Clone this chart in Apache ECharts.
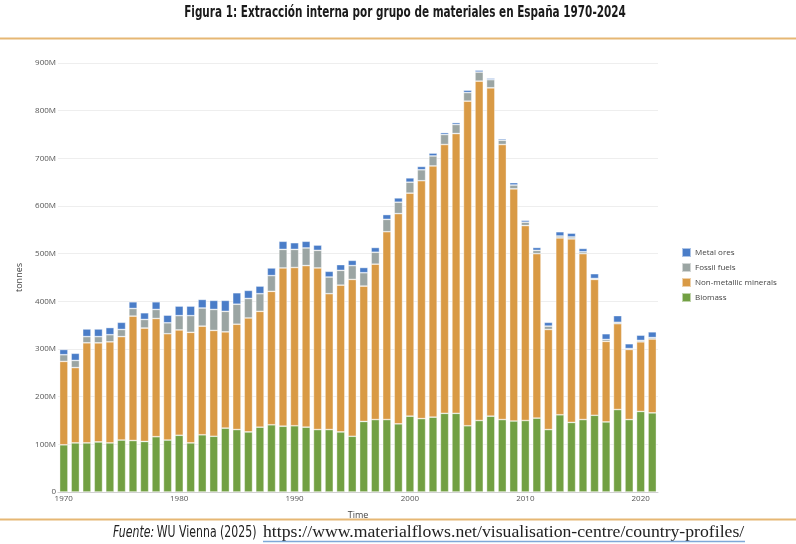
<!DOCTYPE html>
<html>
<head>
<meta charset="utf-8">
<script src="https://cdn.jsdelivr.net/npm/echarts@6/dist/echarts.min.js"></script>
<style>
html,body{margin:0;padding:0;background:#fff;}
#c{width:796px;height:544px;}
</style>
</head>
<body>
<div id="c"></div>
<script>
const years = [];
for (let y = 1970; y <= 2021; y++) years.push(String(y));

// Millions of tonnes, per segment (stacked)
const biomass = [99,103,103,105,103,109,108,106,116,109,119,103,120,117,134,131,126,136,141,138,139,136,131,131,126,117,148,152,152,143,159,154,157,165,165,139,150,159,152,149,150,155,131,162,146,152,161,147,173,152,169,166];
const nonMetallic = [175,158,210,208,212,217,261,238,248,223,221,232,228,222,202,221,239,243,280,332,332,339,339,285,308,329,284,326,394,441,468,499,527,564,587,681,712,689,577,487,409,345,210,371,385,348,285,169,180,147,146,155];
const fossilFuels = [14,15,13,13,15,15,16,18,19,23,30,35,38,44,43,42,41,37,33,39,38,37,37,35,31,29,28,25,26,24,23,23,21,21,19,18,19,17,9,8,7,7,7,4,4,4,2,4,3,2,3,3];
const metalOres = [11,15,16,16,15,15,14,14,16,16,20,20,18,19,23,24,17,16,16,17,14,14,11,12,12,11,11,10,10,9,9,7,6,4,4,5,4,3,3,5,4,6,8,9,8,7,10,12,14,10,11,12];

const seriesNames = ['Biomass','Non-metallic minerals','Fossil fuels','Metal ores'];
const legendOrder = ['Metal ores','Fossil fuels','Non-metallic minerals','Biomass'];
const yTicks = [0,100,200,300,400,500,600,700,800,900];

const colors = {
  'Biomass':'#72A043',
  'Non-metallic minerals':'#D99A45',
  'Fossil fuels':'#9BA5A3',
  'Metal ores':'#4A7DC8'
};
const dataMap = {
  'Biomass': biomass,
  'Non-metallic minerals': nonMetallic,
  'Fossil fuels': fossilFuels,
  'Metal ores': metalOres
};

const chart = echarts.init(document.getElementById('c'));
const labelFont = '"Open Sans", "Liberation Sans", sans-serif';
const condFont = '"Liberation Sans Narrow", "DejaVu Sans Condensed", sans-serif';

chart.setOption({
  animation: false,
  backgroundColor: '#fff',
  legend: {
    data: legendOrder,
    orient: 'vertical',
    left: 676, top: 242,
    itemWidth: 9, itemHeight: 9, itemGap: 4,
    icon: 'rect',
    textStyle: { fontFamily: labelFont, fontSize: 8, color: '#444', padding: [0,0,0,-1] }
  },
  grid: { left: 58, right: 138, top: 63, bottom: 52 },
  xAxis: {
    type: 'category',
    data: years,
    name: 'Time',
    nameLocation: 'middle',
    nameGap: 19,
    nameTextStyle: { fontFamily: labelFont, fontSize: 9, color: '#444' },
    axisTick: { show: false },
    axisLine: { lineStyle: { color: '#d0d0d0' } },
    axisLabel: {
      fontFamily: labelFont, fontSize: 8, color: '#555', margin: 3,
      interval: function (i, v) { return Number(v) % 10 === 0; }
    }
  },
  yAxis: {
    type: 'value',
    min: 0, max: 900, interval: 100,
    name: 'tonnes',
    nameLocation: 'middle',
    nameRotate: 90,
    nameGap: 25,
    nameTextStyle: { fontFamily: labelFont, fontSize: 9, color: '#444' },
    axisLine: { show: false },
    axisTick: { show: false },
    splitLine: { lineStyle: { color: '#eeeeee' } },
    axisLabel: {
      fontFamily: labelFont, fontSize: 8, color: '#555', margin: 2,
      formatter: function (v) { return yTicks.indexOf(v) >= 0 ? (v === 0 ? '0' : v + 'M') : ''; }
    }
  },
  series: seriesNames.map(function (n) {
    return {
      name: n,
      type: 'bar',
      stack: 'total',
      data: dataMap[n],
      barCategoryGap: '28%',
      itemStyle: { color: colors[n], borderColor: 'rgba(255,255,255,0.55)', borderWidth: 0.7 }
    };
  }),
  graphic: [
    {
      type: 'text', x: 405, y: 13, scaleX: 0.75,
      style: {
        text: 'Figura 1: Extracción interna por grupo de materiales en España 1970-2024',
        x: 0, y: 0, align: 'center', verticalAlign: 'middle',
        fontFamily: condFont, fontWeight: 'bold', fontSize: 15.5, fill: '#1a1a1a'
      }
    },
    { type: 'line', shape: { x1: 0, y1: 38.5, x2: 796, y2: 38.5 }, style: { stroke: '#E6B774', lineWidth: 2 } },
    { type: 'line', shape: { x1: 0, y1: 519.5, x2: 796, y2: 519.5 }, style: { stroke: '#E6B774', lineWidth: 2 } },
    {
      type: 'text', x: 113, y: 533, scaleX: 0.81,
      style: {
        text: '{i|Fuente:} {n|WU Vienna (2025)}',
        x: 0, y: 0, align: 'left', verticalAlign: 'middle',
        rich: {
          i: { fontFamily: condFont, fontStyle: 'italic', fontSize: 15, fill: '#222' },
          n: { fontFamily: condFont, fontSize: 15, fill: '#222' }
        }
      }
    },
    {
      type: 'text', x: 263, y: 532,
      style: {
        text: 'https://www.materialflows.net/visualisation-centre/country-profiles/',
        x: 0, y: 0, align: 'left', verticalAlign: 'middle',
        fontFamily: '"Liberation Serif", "DejaVu Serif", serif', fontSize: 17.7, fill: '#222'
      }
    },
    { type: 'line', shape: { x1: 263, y1: 541.5, x2: 745, y2: 541.5 }, style: { stroke: '#7FA8D8', lineWidth: 1.5 } }
  ]
});
</script>
</body>
</html>
